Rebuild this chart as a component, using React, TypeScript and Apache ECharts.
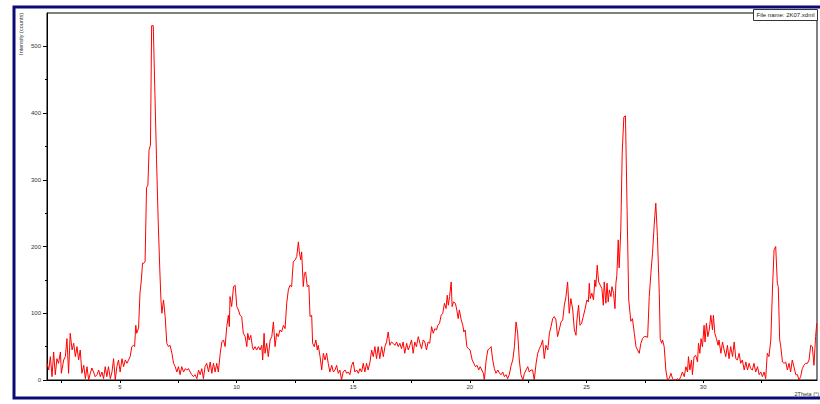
import React, { useEffect, useRef } from 'react';
import * as echarts from 'echarts';

const twoTheta = [
  1.88, 1.95, 2.02, 2.09, 2.16, 2.23, 2.30, 2.37, 2.45, 2.49,
  2.59, 2.66, 2.73, 2.80, 2.87, 2.95, 3.02, 3.09, 3.16, 3.23,
  3.30, 3.37, 3.45, 3.52, 3.59, 3.66, 3.73, 3.80, 3.87, 3.94,
  4.02, 4.09, 4.16, 4.23, 4.30, 4.37, 4.44, 4.51, 4.59, 4.66,
  4.73, 4.80, 4.87, 4.94, 5.01, 5.09, 5.16, 5.23, 5.30, 5.37,
  5.44, 5.51, 5.58, 5.63, 5.68, 5.72, 5.80, 5.86, 5.92, 5.97,
  6.03, 6.08, 6.14, 6.20, 6.25, 6.31, 6.36, 6.43, 6.50, 6.57,
  6.64, 6.71, 6.76, 6.80, 6.87, 6.94, 7.01, 7.08, 7.15, 7.23,
  7.30, 7.37, 7.44, 7.51, 7.58, 7.65, 7.73, 7.80, 7.87, 7.94,
  8.01, 8.08, 8.15, 8.22, 8.30, 8.37, 8.44, 8.51, 8.58, 8.65,
  8.72, 8.80, 8.87, 8.94, 9.01, 9.08, 9.15, 9.22, 9.30, 9.37,
  9.44, 9.51, 9.58, 9.65, 9.69, 9.72, 9.79, 9.87, 9.94, 10.01,
  10.08, 10.15, 10.22, 10.29, 10.37, 10.44, 10.48, 10.54, 10.61, 10.68,
  10.72, 10.79, 10.86, 10.94, 11.01, 11.08, 11.12, 11.18, 11.22, 11.29,
  11.36, 11.44, 11.51, 11.58, 11.65, 11.72, 11.79, 11.86, 11.93, 12.01,
  12.08, 12.15, 12.22, 12.29, 12.36, 12.43, 12.51, 12.58, 12.65, 12.69,
  12.75, 12.79, 12.86, 12.91, 12.96, 13.03, 13.10, 13.15, 13.22, 13.26,
  13.33, 13.40, 13.46, 13.50, 13.58, 13.65, 13.72, 13.79, 13.86, 13.93,
  14.00, 14.08, 14.15, 14.22, 14.29, 14.36, 14.43, 14.50, 14.57, 14.65,
  14.72, 14.79, 14.86, 14.93, 15.00, 15.07, 15.15, 15.22, 15.29, 15.36,
  15.43, 15.50, 15.57, 15.64, 15.72, 15.79, 15.86, 15.93, 16.00, 16.07,
  16.14, 16.22, 16.29, 16.36, 16.43, 16.50, 16.57, 16.64, 16.71, 16.79,
  16.86, 16.93, 17.00, 17.07, 17.14, 17.21, 17.29, 17.36, 17.43, 17.50,
  17.57, 17.64, 17.71, 17.79, 17.86, 17.93, 18.00, 18.07, 18.14, 18.21,
  18.28, 18.36, 18.43, 18.50, 18.57, 18.63, 18.70, 18.77, 18.84, 18.91,
  18.98, 19.03, 19.08, 19.13, 19.20, 19.24, 19.30, 19.38, 19.44, 19.50,
  19.55, 19.63, 19.70, 19.74, 19.80, 19.87, 19.94, 20.01, 20.10, 20.17,
  20.24, 20.31, 20.38, 20.44, 20.51, 20.58, 20.62, 20.70, 20.77, 20.84,
  20.91, 20.98, 21.05, 21.12, 21.20, 21.27, 21.34, 21.41, 21.48, 21.55,
  21.62, 21.69, 21.77, 21.84, 21.91, 21.98, 22.05, 22.12, 22.19, 22.27,
  22.34, 22.41, 22.48, 22.55, 22.62, 22.69, 22.76, 22.84, 22.91, 22.98,
  23.05, 23.12, 23.19, 23.26, 23.34, 23.41, 23.48, 23.55, 23.62, 23.69,
  23.76, 23.83, 23.91, 23.98, 24.05, 24.12, 24.19, 24.26, 24.33, 24.41,
  24.48, 24.55, 24.59, 24.66, 24.72, 24.79, 24.86, 24.93, 25.02, 25.08,
  25.12, 25.16, 25.23, 25.30, 25.36, 25.40, 25.46, 25.52, 25.59, 25.66,
  25.72, 25.76, 25.83, 25.88, 25.93, 25.98, 26.05, 26.09, 26.16, 26.22,
  26.26, 26.30, 26.36, 26.40, 26.47, 26.53, 26.60, 26.67, 26.74, 26.81,
  26.90, 26.97, 27.05, 27.12, 27.19, 27.26, 27.33, 27.40, 27.47, 27.55,
  27.62, 27.69, 27.76, 27.83, 27.90, 27.97, 28.04, 28.12, 28.16, 28.22,
  28.26, 28.33, 28.40, 28.47, 28.54, 28.62, 28.69, 28.76, 28.83, 28.90,
  28.97, 29.04, 29.11, 29.19, 29.26, 29.33, 29.37, 29.43, 29.50, 29.54,
  29.61, 29.68, 29.76, 29.80, 29.86, 29.91, 29.97, 30.04, 30.08, 30.14,
  30.20, 30.26, 30.33, 30.40, 30.44, 30.50, 30.57, 30.64, 30.68, 30.76,
  30.83, 30.90, 30.97, 31.04, 31.11, 31.18, 31.26, 31.33, 31.40, 31.47,
  31.54, 31.61, 31.68, 31.76, 31.83, 31.90, 31.97, 32.04, 32.11, 32.18,
  32.25, 32.33, 32.40, 32.47, 32.54, 32.61, 32.68, 32.75, 32.82, 32.90,
  32.97, 33.04, 33.11, 33.18, 33.22, 33.28, 33.32, 33.40, 33.47, 33.54,
  33.61, 33.68, 33.75, 33.82, 33.89, 33.97, 34.04, 34.11, 34.18, 34.25,
  34.32, 34.39, 34.47, 34.54, 34.61, 34.68, 34.75, 34.82, 34.87,
];

const counts = [
  25, 15, 35, 5, 42, 8, 32, 25, 42, 10,
  30, 35, 62, 10, 70, 45, 55, 35, 50, 30,
  45, 10, 22, 2, 20, 0, 10, 18, 12, 5,
  8, 15, 5, 12, 2, 20, 5, 20, 2, 12,
  32, 0, 20, 30, 12, 32, 20, 30, 25, 30,
  35, 50, 52, 50, 82, 70, 78, 130, 150, 175,
  175, 178, 288, 292, 345, 352, 531, 531, 430, 330,
  240, 165, 120, 100, 120, 95, 55, 50, 52, 40,
  25, 20, 12, 20, 8, 20, 12, 17, 15, 17,
  12, 8, 5, 8, 2, 15, 8, 17, 2, 20,
  25, 12, 27, 10, 25, 12, 25, 12, 40, 57,
  60, 50, 80, 97, 80, 125, 110, 140, 142, 110,
  105, 97, 95, 70, 65, 50, 70, 60, 67, 50,
  45, 50, 45, 50, 45, 52, 30, 70, 40, 55,
  35, 60, 65, 87, 50, 70, 65, 75, 72, 82,
  77, 115, 135, 142, 140, 177, 180, 185, 207, 192,
  180, 192, 140, 160, 162, 140, 142, 95, 97, 55,
  50, 60, 45, 52, 35, 15, 40, 30, 40, 25,
  12, 22, 12, 15, 22, 10, 15, 0, 12, 15,
  10, 12, 8, 22, 27, 12, 15, 10, 17, 12,
  25, 12, 25, 15, 27, 45, 35, 50, 32, 50,
  32, 50, 35, 50, 57, 72, 52, 57, 55, 52,
  57, 50, 55, 47, 57, 40, 55, 45, 52, 60,
  40, 57, 50, 65, 55, 47, 60, 57, 45, 57,
  55, 80, 70, 77, 75, 82, 85, 97, 100, 115,
  107, 127, 112, 125, 147, 110, 117, 115, 105, 92,
  105, 90, 82, 72, 75, 50, 47, 45, 30, 25,
  20, 22, 15, 20, 15, 10, 0, 30, 45, 47,
  50, 30, 17, 10, 15, 10, 8, 12, 5, 8,
  2, 8, 22, 30, 50, 87, 70, 30, 8, 0,
  10, 15, 20, 12, 15, 15, 0, 25, 40, 47,
  52, 60, 32, 52, 45, 70, 80, 92, 95, 90,
  65, 75, 87, 90, 112, 125, 147, 100, 122, 105,
  75, 67, 90, 112, 82, 85, 95, 105, 120, 117,
  145, 122, 130, 120, 150, 140, 172, 147, 142, 137,
  112, 147, 115, 145, 117, 135, 125, 140, 130, 107,
  145, 157, 210, 168, 225, 340, 394, 396, 254, 120,
  88, 92, 70, 50, 45, 40, 55, 62, 65, 65,
  64, 125, 160, 190, 232, 265, 215, 130, 62, 55,
  60, 50, 15, 0, 2, 10, 2, 0, 0, 2,
  0, 5, 12, 5, 20, 12, 35, 15, 30, 8,
  35, 37, 27, 55, 40, 62, 50, 82, 57, 85,
  65, 75, 97, 75, 97, 70, 62, 52, 60, 40,
  57, 45, 35, 52, 32, 50, 35, 57, 32, 30,
  40, 25, 30, 15, 27, 15, 25, 17, 15, 25,
  12, 20, 8, 12, 5, 12, 2, 40, 35, 60,
  135, 195, 200, 145, 140, 60, 52, 27, 25, 27,
  15, 25, 12, 30, 20, 8, 8, 0, 5, 17,
  22, 25, 25, 30, 52, 50, 22, 65, 85,
];

const xTickValues = [2.5, 5, 7.5, 10, 12.5, 15, 17.5, 20, 22.5, 25, 27.5, 30, 32.5];
const xLabelValues = [5, 10, 15, 20, 25, 30];
const yLabelValues = [0, 100, 200, 300, 400, 500];
const yMinorValues = [50, 150, 250, 350, 450];
const fileNameText = 'File name: 2K07.xdml';
const xAxisName = '2Theta (°)';
const yAxisName = 'Intensity (counts)';

export default function App() {
  const ref = useRef<HTMLDivElement>(null);
  useEffect(() => {
    if (!ref.current) return;
    const chart = echarts.init(ref.current, undefined, { renderer: 'svg' });
    const font = '"Liberation Sans", Arial, sans-serif';
    const labelStyle = { fontSize: 6, color: '#333', fontFamily: font };
    chart.setOption({
      animation: false,
      backgroundColor: '#ffffff',
      grid: {
        left: 47, top: 13, width: 770, height: 367,
        show: true, borderColor: '#000', borderWidth: 1, backgroundColor: 'transparent',
      },
      xAxis: [
        {
          type: 'value', min: 1.875, max: 34.88,
          axisLine: { show: true, lineStyle: { color: '#000', width: 1 } },
          axisTick: { show: true, customValues: xTickValues, length: 3, lineStyle: { color: '#000' } },
          axisLabel: { ...labelStyle, customValues: xLabelValues, margin: 4 },
          splitLine: { show: false },
        },
      ],
      yAxis: [
        {
          type: 'value', min: 0, max: 550,
          axisLine: { show: true, lineStyle: { color: '#000', width: 1 } },
          axisTick: { show: true, customValues: yLabelValues, length: 4, lineStyle: { color: '#000' } },
          axisLabel: { ...labelStyle, customValues: yLabelValues, margin: 6 },
          splitLine: { show: false },
        },
        {
          type: 'value', min: 0, max: 550, position: 'left',
          axisLine: { show: false },
          axisTick: { show: true, customValues: yMinorValues, length: 2, lineStyle: { color: '#000' } },
          axisLabel: { show: false },
          splitLine: { show: false },
        },
      ],
      series: [
        {
          type: 'line',
          data: twoTheta.map((t, i) => [t, counts[i]]),
          showSymbol: false,
          symbol: 'none',
          lineStyle: { color: '#ff0000', width: 1 },
          clip: true,
          z: 3,
        },
      ],
      graphic: [
        {
          type: 'rect', z: 100, silent: true,
          shape: { x: 14, y: 7, width: 830, height: 391 },
          style: { fill: 'none', stroke: '#0b0b78', lineWidth: 3 },
        },
        {
          type: 'rect', z: 101, silent: true,
          shape: { x: 753.5, y: 9.5, width: 64, height: 11 },
          style: { fill: '#fff', stroke: '#333', lineWidth: 1 },
        },
        {
          type: 'text', z: 102, silent: true, x: 785.5, y: 15,
          style: { text: fileNameText, fontSize: 6, fill: '#222', fontFamily: font, align: 'center', verticalAlign: 'middle' },
        },
        {
          type: 'text', z: 102, silent: true, x: 21, y: 13, rotation: Math.PI / 2,
          style: { text: yAxisName, fontSize: 5.5, fill: '#333', fontFamily: font, align: 'right', verticalAlign: 'middle' },
        },
        {
          type: 'text', z: 102, silent: true, x: 819, y: 394,
          style: { text: xAxisName, fontSize: 5.5, fill: '#333', fontFamily: font, align: 'right', verticalAlign: 'middle' },
        },
      ],
    });
    return () => chart.dispose();
  }, []);
  return (
    <div
      ref={ref}
      style={{ position: 'absolute', left: 0, top: 0, width: 820, height: 404, background: '#fff' }}
    />
  );
}
